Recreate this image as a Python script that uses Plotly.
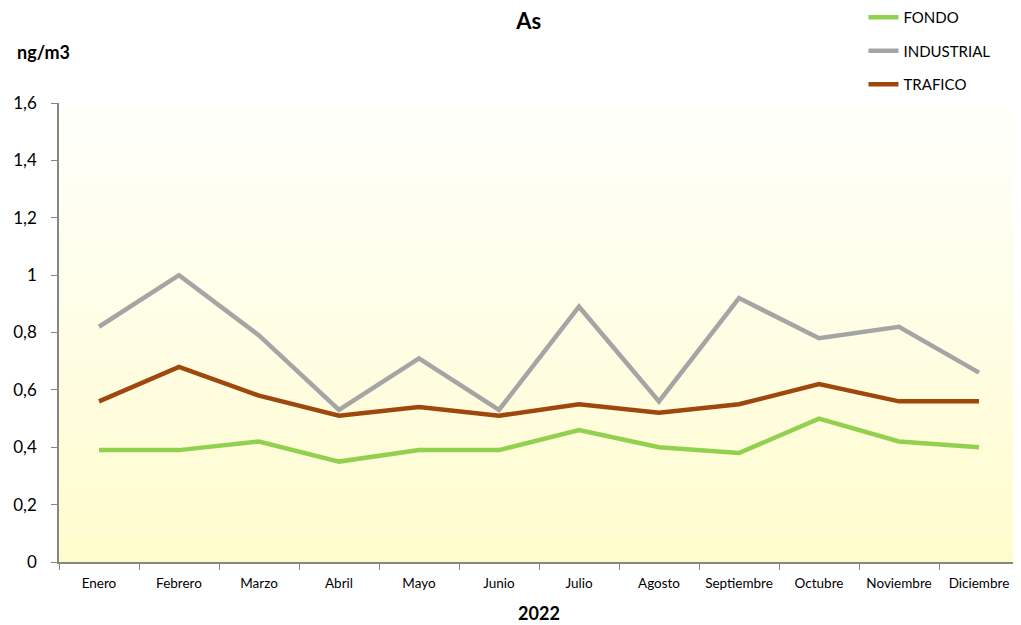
import plotly.graph_objects as go

MESES = ['Enero', 'Febrero', 'Marzo', 'Abril', 'Mayo', 'Junio', 'Julio',
         'Agosto', 'Septiembre', 'Octubre', 'Noviembre', 'Diciembre']
FONDO      = [0.39, 0.39, 0.42, 0.35, 0.39, 0.39, 0.46, 0.40, 0.38, 0.50, 0.42, 0.40]
INDUSTRIAL = [0.82, 1.00, 0.79, 0.53, 0.71, 0.53, 0.89, 0.56, 0.92, 0.78, 0.82, 0.66]
TRAFICO    = [0.56, 0.68, 0.58, 0.51, 0.54, 0.51, 0.55, 0.52, 0.55, 0.62, 0.56, 0.56]
Y_TICKS    = [0, 0.2, 0.4, 0.6, 0.8, 1, 1.2, 1.4, 1.6]

FONT = 'Lato, Liberation Sans, sans-serif'

fig = go.Figure()
for name, vals, color, grp in [('FONDO', FONDO, '#92D050', 'a'),
                               ('INDUSTRIAL', INDUSTRIAL, '#A5A5A5', 'b'),
                               ('TRAFICO', TRAFICO, '#9E480E', 'c')]:
    fig.add_trace(go.Scatter(
        x=MESES, y=vals, name=name, mode='lines', legendgroup=grp,
        line=dict(color=color, width=4.5),
    ))

# vertical gradient in plot area: near white at top -> light yellow at bottom
n_bands = 60
top = (255, 255, 252)
bot = (255, 252, 204)
for i in range(n_bands):
    t = (i + 0.5) / n_bands
    c = tuple(round(top[k] + (bot[k] - top[k]) * t) for k in range(3))
    fig.add_shape(type='rect', xref='paper', yref='paper',
                  x0=0, x1=1, y0=1 - (i + 1) / n_bands, y1=1 - i / n_bands,
                  fillcolor=f'rgb{c}', line=dict(width=0), layer='below')

fig.add_annotation(text='<b>ng/m3</b>', xref='paper', yref='paper',
                   x=-0.046, y=1.111, xanchor='left', yanchor='middle',
                   showarrow=False, font=dict(size=18, color='black', family=FONT))

# page body has an 8px margin, so margins are offset to land the plot area
fig.update_layout(
    width=1021, height=625,
    margin=dict(l=51, r=10, t=95, b=71, autoexpand=False),
    paper_bgcolor='white', plot_bgcolor='rgba(0,0,0,0)',
    separators=',.',
    font=dict(family=FONT, color='black'),
    title=dict(text='<b>As</b>', x=0.51, xanchor='center', y=0.978,
               yanchor='middle', font=dict(size=22, family=FONT, color='black')),
    legend=dict(x=0.838, y=1.222, xanchor='left', yanchor='top',
                bgcolor='rgba(0,0,0,0)', tracegroupgap=11,
                font=dict(size=15, family=FONT, color='black')),
    showlegend=True,
)
fig.update_xaxes(
    range=[-0.5, 11.5], automargin=False,
    showline=True, linecolor='#868686', linewidth=1.5,
    ticks='outside', tickson='boundaries', ticklen=6, tickcolor='#868686',
    showgrid=False, tickfont=dict(size=13.5), ticklabelstandoff=8,
    title=dict(text='<b>2022</b>', font=dict(size=18), standoff=17),
)
fig.update_yaxes(
    range=[0, 1.6], tickvals=Y_TICKS, automargin=False,
    showline=True, linecolor='#868686',
    linewidth=1.5, ticks='outside', ticklen=6, tickcolor='#868686',
    showgrid=False, zeroline=False, tickfont=dict(size=17), ticklabelstandoff=11,
)

fig.write_html('out.html')
